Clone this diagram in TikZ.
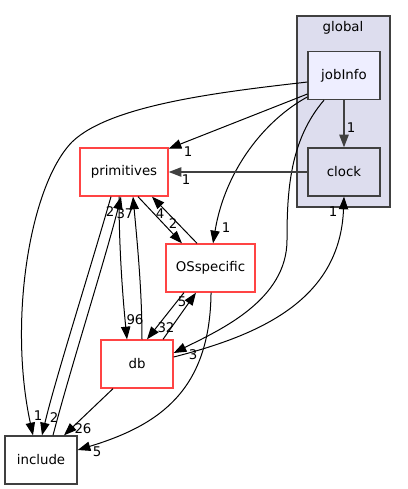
\documentclass[tikz,border=0pt]{standalone}
\usepackage{fontspec}
\setmainfont{DejaVu Sans}
\usepackage{xcolor}
\usetikzlibrary{arrows.meta}
\definecolor{dirred}{HTML}{FF4444}
\definecolor{dirgray}{HTML}{404040}
\definecolor{clusterfill}{HTML}{DDDDEE}
\definecolor{leaffill}{HTML}{EEEEFF}

\begin{document}
\begin{tikzpicture}[x=0.75pt, y=-0.75pt, font=\fontsize{10}{12}\selectfont,
  dirbox/.style={rectangle, draw=dirgray, line width=1pt, fill=white, inner sep=0pt, minimum width=54pt, minimum height=36pt},
  redbox/.style={dirbox, draw=dirred},
  dep/.style={-{Triangle[length=9.5pt, width=7pt]}, line width=0.75pt},
  bigdep/.style={dep, draw=dirgray, line width=1.1pt},
  lbl/.style={inner sep=0pt}]
\useasboundingbox (0,0) rectangle (407,489);

% cluster
\node[rectangle, draw=dirgray, line width=0.9pt, fill=clusterfill, minimum width=69.75pt, minimum height=143.25pt, inner sep=0pt] (global) at (343.5,111.5) {};
\node[lbl] (globaltitle) at (343,28) {global};

% directories
\node[dirbox, fill=leaffill] (jobInfo) at (344,75.5) {jobInfo};
\node[dirbox, fill=clusterfill] (clock) at (344,172) {clock};
\node[redbox, minimum width=66pt] (primitives) at (124,172) {primitives};
\node[redbox, minimum width=66.75pt] (OSspecific) at (210.5,268) {OSspecific};
\node[redbox] (db) at (137,364) {db};
\node[dirbox] (include) at (41,460) {include};

% dependencies
\draw[dep] ([yshift=-4.9pt]jobInfo.west) .. controls (220,92) and (110,105) .. (72,142)
  .. controls (30,185) and (8,320) .. ([xshift=-6pt]include.north);
\draw[dep] ([yshift=-13.9pt]jobInfo.west) -- ([yshift=-1pt]primitives.north east);
\draw[dep] ([yshift=-16.1pt]jobInfo.west) .. controls (265,120) and (225,170) .. ([xshift=1.9pt]OSspecific.north);
\draw[dep] ([xshift=-15pt]jobInfo.south) .. controls (290,140) and (287,190) .. (287,240)
  .. controls (287,300) and (220,330) .. ([yshift=8.25pt]db.east);
\draw[bigdep] (jobInfo) -- (clock);
\draw[bigdep] (clock) -- (primitives);
\draw[dep] ([yshift=5.25pt]db.east) .. controls (260,335) and (340,300) .. (clock.south);
\draw[dep] ([xshift=-9.75pt]primitives.south) .. controls (90,270) and (55,380) .. ([xshift=0.75pt]include.north);
\draw[dep] ([xshift=9pt]include.north) .. controls (70,370) and (105,260) .. ([xshift=-2.25pt]primitives.south);
\draw[dep] ([xshift=-3.75pt]primitives.south) .. controls (119,250) and (123,300) .. ([xshift=-7.5pt]db.north);
\draw[dep] ([xshift=3.75pt]db.north) .. controls (142,290) and (137,240) .. ([xshift=6.75pt]primitives.south);
\draw[dep] ([xshift=10.5pt]primitives.south) -- ([xshift=-21.4pt]OSspecific.north);
\draw[dep] ([xshift=-10.1pt]OSspecific.north) -- ([xshift=21pt]primitives.south);
\draw[dep] ([xshift=-19.9pt]OSspecific.south) -- ([xshift=7.5pt]db.north);
\draw[dep] ([xshift=19.5pt]db.north) -- ([xshift=-10.9pt]OSspecific.south);
\draw[dep] ([xshift=0.4pt]OSspecific.south) .. controls (210,390) and (160,425) .. ([yshift=7.5pt]include.east);
\draw[dep] ([xshift=-18pt]db.south) -- ([xshift=17.25pt]include.north);

% counts
\node[lbl] (n-ji-inc) at (38,416) {1};
\node[lbl] (n-ji-prim) at (188,152) {1};
\node[lbl] (n-ji-os) at (226,228) {1};
\node[lbl] (n-ji-db) at (193,355) {3};
\node[lbl] (n-ji-clk) at (351,128) {1};
\node[lbl] (n-clk-prim) at (186,180) {1};
\node[lbl] (n-db-clk) at (333,212) {1};
\node[lbl] (n-prim-inc) at (54,418) {2};
\node[lbl] (n-inc-prim) at (110,212) {2};
\node[lbl] (n-prim-db) at (135,320) {96};
\node[lbl] (n-db-prim) at (125,214) {37};
\node[lbl] (n-prim-os) at (173,224) {2};
\node[lbl] (n-os-prim) at (160,214) {4};
\node[lbl] (n-os-db) at (166,328) {32};
\node[lbl] (n-db-os) at (182,302) {5};
\node[lbl] (n-os-inc) at (97,452) {5};
\node[lbl] (n-db-inc) at (83,429) {26};
\end{tikzpicture}
\end{document}
